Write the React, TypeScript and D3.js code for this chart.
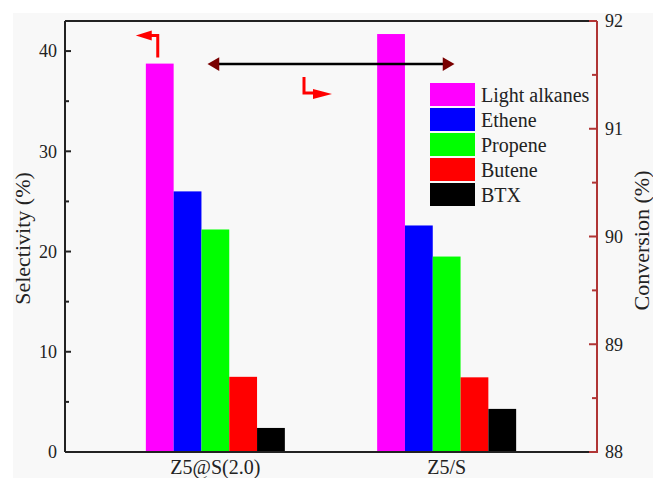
import React from 'react'
import * as d3 from 'd3'

const categories = ['Z5@S(2.0)', 'Z5/S']
const seriesNames = ['Light alkanes', 'Ethene', 'Propene', 'Butene', 'BTX']
const seriesColors = ['#ff00ff', '#0000ff', '#00ff00', '#ff0000', '#000000']
// selectivity (%) per category, in series order
const selectivityZ5S20 = [38.75, 26.0, 22.2, 7.5, 2.4]
const selectivityZ5S = [41.7, 22.6, 19.5, 7.45, 4.3]
const conversion = [91.6, 91.6]
const leftTicks = [0, 10, 20, 30, 40]
const rightTicks = [88, 89, 90, 91, 92]

const W = 653
const H = 478
const m = { left: 65, right: 597, top: 21, bottom: 452 }
const font = '"Liberation Serif", "Times New Roman", serif'

export default function App() {
  const selectivity = [selectivityZ5S20, selectivityZ5S]

  const x0 = d3.scalePoint().domain(categories).range([m.left, m.right]).padding(0.65)
  const x1 = d3.scaleBand().domain(seriesNames).range([-69.5, 69.5]).padding(0)
  const yL = d3.scaleLinear().domain([0, 43]).range([m.bottom, m.top])
  const yR = d3.scaleLinear().domain([88, 92]).range([m.bottom, m.top])

  const leftMinor = d3.range(5, 43, 10)
  const rightMinor = d3.range(88.5, 92, 1)

  const convLine = d3.line<number>()
    .x((d, i) => x0(categories[i]) as number)
    .y(d => yR(d))

  const axisRed = '#b03535'
  const markerRed = '#7a0000'

  // annotation arrows anchored to data
  const aX = (x0(categories[0]) as number) + (x1(seriesNames[0]) as number) + x1.bandwidth() / 2 - 2
  const aY = yL(selectivityZ5S20[0])
  const p1 = x0(categories[0]) as number
  const p2 = x0(categories[1]) as number
  const bX = (p1 + p2) / 2 - 27
  const bY = yR(conversion[0])

  return (
    <svg width={W} height={H} style={{ position: 'absolute', left: 0, top: 0, fontFamily: font }}>
      <rect x={13} y={13} width={W - 13} height={H - 13} fill="#f8f8f8" />

      {/* bars */}
      {categories.map((c, ci) => (
        <g key={c} transform={`translate(${x0(c)},0)`}>
          {seriesNames.map((s, si) => (
            <rect key={s}
              x={x1(s)}
              y={yL(selectivity[ci][si])}
              width={x1.bandwidth()}
              height={m.bottom - yL(selectivity[ci][si])}
              fill={seriesColors[si]} />
          ))}
        </g>
      ))}

      {/* frame */}
      <line x1={m.left} x2={m.right} y1={m.top} y2={m.top} stroke="#222" strokeWidth={2} />
      <line x1={m.left} x2={m.right} y1={m.bottom} y2={m.bottom} stroke="#222" strokeWidth={2} />
      <line x1={m.left} x2={m.left} y1={m.top} y2={m.bottom} stroke="#222" strokeWidth={2} />
      <line x1={m.right} x2={m.right} y1={m.top} y2={m.bottom + 1} stroke={axisRed} strokeWidth={2} />

      {/* left axis */}
      {leftTicks.map(t => (
        <g key={t}>
          <line x1={m.left} x2={m.left + 6} y1={yL(t)} y2={yL(t)} stroke="#222" strokeWidth={2} />
          <text x={m.left - 8} y={yL(t)} dy="0.35em" textAnchor="end" fontSize={18} fill="#222">{t}</text>
        </g>
      ))}
      {leftMinor.map(t => (
        <line key={t} x1={m.left} x2={m.left + 4} y1={yL(t)} y2={yL(t)} stroke="#222" strokeWidth={2} />
      ))}

      {/* right axis */}
      {rightTicks.map(t => (
        <g key={t}>
          <line x1={m.right - 8} x2={m.right} y1={yR(t)} y2={yR(t)} stroke={axisRed} strokeWidth={2} />
          <text x={m.right + 8} y={yR(t)} dy="0.35em" textAnchor="start" fontSize={18} fill="#222">{t}</text>
        </g>
      ))}
      {rightMinor.map(t => (
        <line key={t} x1={m.right - 5} x2={m.right} y1={yR(t)} y2={yR(t)} stroke={axisRed} strokeWidth={2} />
      ))}

      {/* category labels */}
      {categories.map(c => (
        <text key={c} x={x0(c)} y={474} textAnchor="middle" fontSize={20} fill="#222">{c}</text>
      ))}

      {/* axis titles */}
      <text transform={`translate(22,${(m.top + m.bottom) / 2 + 2}) rotate(-90)`} textAnchor="middle"
        dominantBaseline="central" fontSize={22} fill="#222">Selectivity (%)</text>
      <text transform={`translate(641,${(m.top + m.bottom) / 2 + 4}) rotate(-90)`} textAnchor="middle"
        dominantBaseline="central" fontSize={22} fill="#222">Conversion (%)</text>

      {/* conversion line */}
      <path d={convLine(conversion) || ''} fill="none" stroke="#000" strokeWidth={2.5} />
      <path d={d3.symbol().type(d3.symbolTriangle).size(80)() || ''}
        transform={`translate(${p1},${bY}) rotate(-90)`} fill={markerRed} />
      <path d={d3.symbol().type(d3.symbolTriangle).size(80)() || ''}
        transform={`translate(${p2},${bY}) rotate(90)`} fill={markerRed} />

      {/* arrows */}
      <path d={`M${aX},${aY - 6} V${aY - 28} H${aX - 8}`} fill="none" stroke="#ff0000" strokeWidth={3} />
      <path d={`M${aX - 22},${aY - 28} L${aX - 6},${aY - 33} L${aX - 6},${aY - 23} Z`} fill="#ff0000" />
      <path d={`M${bX},${bY + 13} V${bY + 29} H${bX + 10}`} fill="none" stroke="#ff0000" strokeWidth={3} />
      <path d={`M${bX + 28},${bY + 30} L${bX + 9},${bY + 25} L${bX + 9},${bY + 35} Z`} fill="#ff0000" />

      {/* legend */}
      {seriesNames.map((s, i) => (
        <g key={s} transform={`translate(430,${83 + i * 25})`}>
          <rect x={0} y={0} width={45} height={23} fill={seriesColors[i]} />
          <text x={51} y={12} dy="0.35em" fontSize={20} fill="#222">{s}</text>
        </g>
      ))}
    </svg>
  )
}
